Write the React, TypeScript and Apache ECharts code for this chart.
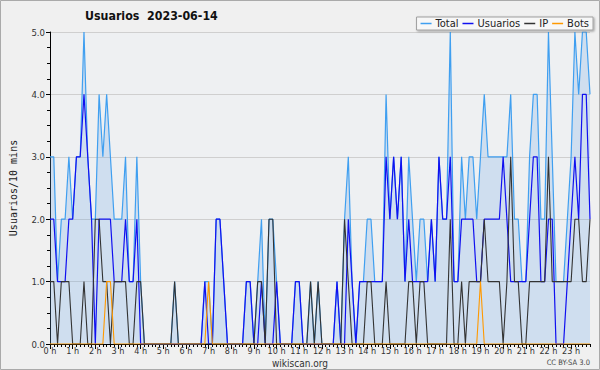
import React, { useEffect, useRef } from "react";
import * as echarts from "echarts";

// 10-minute slots of the day (index 0 = 00:00, 143 = 23:50)
const hourLabels = [
  "0 h", "1 h", "2 h", "3 h", "4 h", "5 h", "6 h", "7 h", "8 h", "9 h", "10 h", "11 h",
  "12 h", "13 h", "14 h", "15 h", "16 h", "17 h", "18 h", "19 h", "20 h", "21 h", "22 h", "23 h",
];
const hourTicks = [0, 6, 12, 18, 24, 30, 36, 42, 48, 54, 60, 66, 72, 78, 84, 90, 96, 102, 108, 114, 120, 126, 132, 138];

const total = [
  3, 3, 1, 2, 2, 3, 2, 3, 3, 5, 3, 2, 2, 4, 3, 4, 3, 2, 2, 2, 3, 1, 1, 3,
  1, 0, 0, 0, 0, 0, 0, 0, 0, 1, 0, 0, 0, 0, 0, 0, 0, 1, 1, 0, 2, 2, 1, 0,
  0, 0, 0, 0, 1, 1, 0, 1, 2, 0, 2, 2, 1, 0, 0, 0, 0, 1, 1, 0, 0, 1, 0, 1,
  0, 0, 0, 0, 1, 0, 2, 3, 1, 0, 1, 1, 2, 2, 1, 1, 1, 4, 2, 3, 2, 3, 1, 3,
  2, 1, 2, 2, 1, 2, 1, 3, 2, 2, 5, 1, 1, 3, 2, 3, 3, 2, 3, 4, 3, 3, 3, 3,
  3, 3, 4, 2, 2, 1, 1, 3, 4, 4, 2, 2, 5, 3, 1, 1, 1, 2, 3, 5, 4, 5, 5, 4,
];
const usuarios = [
  2, 2, 1, 1, 1, 2, 2, 3, 3, 4, 3, 2, 0, 2, 2, 2, 2, 1, 1, 1, 2, 1, 1, 2,
  0, 0, 0, 0, 0, 0, 0, 0, 0, 0, 0, 0, 0, 0, 0, 0, 0, 1, 0, 0, 2, 2, 1, 0,
  0, 0, 0, 0, 1, 1, 0, 0, 1, 0, 0, 0, 1, 0, 0, 0, 0, 1, 1, 0, 0, 0, 0, 0,
  0, 0, 0, 0, 1, 0, 0, 2, 1, 0, 1, 1, 1, 1, 1, 1, 1, 3, 2, 3, 2, 3, 1, 2,
  1, 1, 1, 1, 1, 2, 1, 3, 2, 2, 3, 1, 1, 2, 2, 2, 2, 1, 1, 2, 2, 2, 2, 2,
  3, 2, 1, 1, 1, 1, 1, 2, 3, 3, 1, 1, 2, 2, 0, 0, 0, 1, 2, 3, 2, 4, 4, 2,
];
const ip = [
  1, 1, 0, 1, 1, 1, 0, 0, 0, 1, 0, 0, 2, 2, 1, 1, 0, 1, 1, 1, 1, 0, 0, 1,
  1, 0, 0, 0, 0, 0, 0, 0, 0, 1, 0, 0, 0, 0, 0, 0, 0, 0, 0, 0, 0, 0, 0, 0,
  0, 0, 0, 0, 0, 0, 0, 1, 1, 0, 2, 2, 0, 0, 0, 0, 0, 0, 0, 0, 0, 1, 0, 1,
  0, 0, 0, 0, 0, 0, 2, 1, 0, 0, 0, 0, 1, 1, 0, 0, 0, 1, 0, 0, 0, 0, 0, 1,
  1, 0, 1, 1, 0, 0, 0, 0, 0, 0, 2, 0, 0, 1, 0, 1, 1, 1, 1, 2, 1, 1, 1, 1,
  0, 1, 3, 1, 1, 0, 0, 1, 1, 1, 1, 1, 3, 1, 1, 1, 1, 1, 1, 2, 2, 1, 1, 2,
];
const bots = [
  0, 0, 0, 0, 0, 0, 0, 0, 0, 0, 0, 0, 0, 0, 0, 1, 1, 0, 0, 0, 0, 0, 0, 0,
  0, 0, 0, 0, 0, 0, 0, 0, 0, 0, 0, 0, 0, 0, 0, 0, 0, 0, 1, 0, 0, 0, 0, 0,
  0, 0, 0, 0, 0, 0, 0, 0, 0, 0, 0, 0, 0, 0, 0, 0, 0, 0, 0, 0, 0, 0, 0, 0,
  0, 0, 0, 0, 0, 0, 0, 0, 0, 0, 0, 0, 0, 0, 0, 0, 0, 0, 0, 0, 0, 0, 0, 0,
  0, 0, 0, 0, 0, 0, 0, 0, 0, 0, 0, 0, 0, 0, 0, 0, 0, 0, 1, 0, 0, 0, 0, 0,
  0, 0, 0, 0, 0, 0, 0, 0, 0, 0, 0, 0, 0, 0, 0, 0, 0, 0, 0, 0, 0, 0, 0, 0,
];

const FONT = "'DejaVu Sans Condensed', 'DejaVu Sans', sans-serif";
const MONO = "'DejaVu Sans Mono', monospace";

const pairs = (arr: number[]) => arr.map((v, i) => [i, v]);

export default function App() {
  const ref = useRef<HTMLDivElement>(null);
  useEffect(() => {
    if (!ref.current) return;
    const chart = echarts.init(ref.current, undefined, { renderer: "svg" });
    const lastSlot = total.length - 1;
    chart.setOption({
      animation: false,
      backgroundColor: "#f0f0f0",
      title: {
        text: "Usuarios  2023-06-14",
        left: 85,
        top: 10,
        padding: 0,
        textStyle: { fontSize: 12.3, fontWeight: "bold", fontFamily: FONT, color: "#111" },
      },
      legend: {
        right: 7,
        top: 17,
        itemWidth: 11,
        itemHeight: 1.5,
        itemGap: 4,
        icon: "rect",
        padding: [1, 4, 1, 4],
        backgroundColor: "#f7f7f7",
        borderColor: "#a0a0a0",
        borderWidth: 1,
        shadowColor: "rgba(0,0,0,0.35)",
        shadowBlur: 2,
        shadowOffsetX: 1,
        shadowOffsetY: 1,
        textStyle: { fontSize: 11, fontFamily: FONT, color: "#222", padding: [0, 0, 0, -1] },
        data: ["Total", "Usuarios", "IP", "Bots"],
      },
      grid: {
        left: 46,
        right: 10,
        top: 32,
        bottom: 26,
        show: true,
        backgroundColor: "#eef0f2",
        borderWidth: 0,
      },
      xAxis: [
        {
          type: "value",
          min: 0,
          max: lastSlot,
          interval: 1,
          axisLine: { lineStyle: { color: "#000", width: 1 } },
          axisTick: { length: 3, lineStyle: { color: "#000" } },
          axisLabel: {
            customValues: hourTicks,
            formatter: (v: number) => hourLabels[Math.round(v / 6)] ?? "",
            fontSize: 9,
            fontFamily: FONT,
            color: "#333",
            margin: 2,
            lineHeight: 10,
          },
          splitLine: { show: false },
        },
        {
          type: "value",
          position: "bottom",
          min: 0,
          max: lastSlot,
          interval: 6,
          axisLine: { show: false },
          axisTick: { show: true, customValues: hourTicks, length: 5, lineStyle: { color: "#000" } },
          axisLabel: { show: false },
          splitLine: { show: false },
        },
      ],
      yAxis: {
        type: "value",
        min: 0,
        max: 5,
        interval: 1,
        name: "Usuarios/10 mins",
        nameLocation: "middle",
        nameGap: 32,
        nameTextStyle: { fontFamily: MONO, fontSize: 10, color: "#222" },
        axisLine: { show: true, lineStyle: { color: "#000", width: 1 } },
        axisTick: { show: true, length: 4, lineStyle: { color: "#000" } },
        minorTick: { show: true, splitNumber: 4, length: 3, lineStyle: { color: "#000" } },
        axisLabel: {
          formatter: (v: number) => v.toFixed(1),
          fontSize: 9.5,
          fontFamily: FONT,
          color: "#333",
          margin: 5,
        },
        splitLine: { lineStyle: { color: "#cfcfcf", width: 1 } },
      },
      series: [
        {
          name: "Total",
          type: "line",
          data: pairs(total),
          symbol: "none",
          lineStyle: { color: "#3f9ff0", width: 1.2 },
          itemStyle: { color: "#3f9ff0" },
          areaStyle: { color: "rgba(110,170,230,0.35)" },
        },
        {
          name: "Usuarios",
          type: "line",
          data: pairs(usuarios),
          symbol: "none",
          lineStyle: { color: "#1010f0", width: 1.2 },
          itemStyle: { color: "#1010f0" },
        },
        {
          name: "IP",
          type: "line",
          data: pairs(ip),
          symbol: "none",
          lineStyle: { color: "#333333", width: 1.1 },
          itemStyle: { color: "#333333" },
        },
        {
          name: "Bots",
          type: "line",
          data: pairs(bots),
          symbol: "none",
          lineStyle: { color: "#ff9900", width: 1.1 },
          itemStyle: { color: "#ff9900" },
        },
      ],
      graphic: [
        {
          type: "rect",
          shape: { x: 0.5, y: 0.5, width: 599, height: 369 },
          style: { fill: "none", stroke: "#aaaaaa", lineWidth: 1 },
          silent: true,
        },
        {
          type: "text",
          x: 300,
          y: 363.5,
          style: {
            text: "wikiscan.org",
            fontSize: 10,
            fontFamily: FONT,
            fill: "#333",
            align: "center",
            verticalAlign: "middle",
          },
        },
        {
          type: "text",
          x: 590,
          y: 362,
          style: {
            text: "CC BY-SA 3.0",
            fontSize: 7.5,
            fontFamily: FONT,
            fill: "#444",
            align: "right",
            verticalAlign: "middle",
          },
        },
      ],
    });
    return () => chart.dispose();
  }, []);
  return (
    <div
      ref={ref}
      style={{ position: "fixed", left: 0, top: 0, width: 600, height: 370 }}
    />
  );
}
